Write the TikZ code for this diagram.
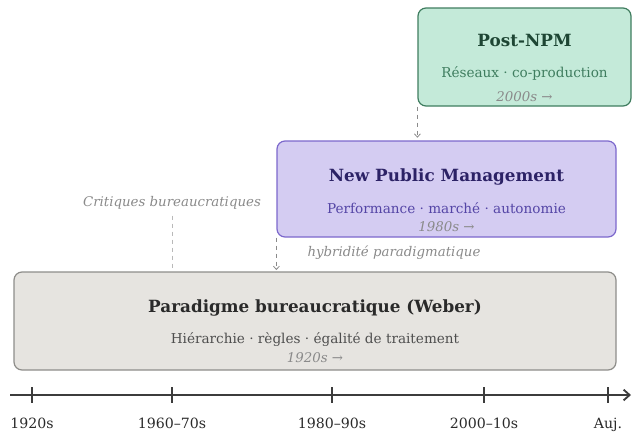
\documentclass[tikz,border=0pt]{standalone}
\usepackage{fontspec}
\setmainfont{DejaVu Serif}
\usepackage{tikz}
\usetikzlibrary{positioning, arrows.meta}

\definecolor{postfill}{HTML}{C4EAD9}
\definecolor{postdraw}{HTML}{3F7D5F}
\definecolor{posttext}{HTML}{1E4634}
\definecolor{npmfill}{HTML}{D4CCF2}
\definecolor{npmdraw}{HTML}{7C68CC}
\definecolor{npmtext}{HTML}{2C2266}
\definecolor{npmsub}{HTML}{5445A6}
\definecolor{burfill}{HTML}{E6E4E0}
\definecolor{burdraw}{HTML}{8E8D8A}
\definecolor{burtext}{HTML}{2A2A2A}
\definecolor{bursub}{HTML}{4E4E4E}
\definecolor{notegray}{HTML}{8A8A8A}
\definecolor{axisgray}{HTML}{3C3C3C}

\tikzset{
	era/.style={draw, rounded corners=6pt, line width=0.9pt, inner sep=0pt},
	eratitle/.style={anchor=base, inner sep=0pt, font=\bfseries\fontsize{12.6}{14}\selectfont},
	erasub/.style={anchor=base, inner sep=0pt, font=\fontsize{10.2}{12}\selectfont},
	eradate/.style={anchor=base, inner sep=0pt, text=notegray, font=\itshape\fontsize{10}{11}\selectfont},
	note/.style={anchor=base, inner sep=0pt, text=notegray, font=\itshape\fontsize{10}{11}\selectfont},
	link/.style={draw=notegray, dashed, dash pattern=on 3.5pt off 2.5pt, line width=0.6pt},
	ticklabel/.style={anchor=base, inner sep=0pt, text=burtext, font=\fontsize{10.6}{12}\selectfont}
}

\begin{document}
\begin{tikzpicture}[x=0.75pt, y=-0.75pt]
	\useasboundingbox (0,0) rectangle (632,436);

	% the three paradigms
	\begin{scope}
		\node[era, fill=postfill, draw=postdraw, minimum width=159.75pt, minimum height=73.5pt] (postnpm) at (524.5,57) {};
		\node[eratitle, text=posttext] (posttitle) at (524.5,46) {Post-NPM};
		\node[erasub, text=postdraw] (postsub) at (524.5,77) {Réseaux · co-production};
		\node[eradate] (postdate) at (524.5,101) {2000s →};

		\node[era, fill=npmfill, draw=npmdraw, minimum width=254.25pt, minimum height=72pt] (npm) at (446.5,189) {};
		\node[eratitle, text=npmtext] (npmtitle) at (446.5,181) {New Public Management};
		\node[erasub, text=npmsub] (npmsub) at (446.5,213) {Performance · marché · autonomie};
		\node[eradate] (npmdate) at (446.5,231) {1980s →};

		\node[era, fill=burfill, draw=burdraw, minimum width=451.5pt, minimum height=73.5pt] (bureau) at (315,321) {};
		\node[eratitle, text=burtext] (burtitle) at (315,312) {Paradigme bureaucratique (Weber)};
		\node[erasub, text=bursub] (bursub) at (315,343) {Hiérarchie · règles · égalité de traitement};
		\node[eradate] (burdate) at (315,362) {1920s →};
	\end{scope}

	% transitions
	\begin{scope}[-{Straight Barb[length=2.5pt, width=4.5pt]}]
		\draw[link] (postnpm.south west) -- ([yshift=2pt]postnpm.south west |- npm.north);
		\draw[link] (npm.south west) -- ([yshift=1pt]npm.south west |- bureau.north);
	\end{scope}

	\node[note] (critiques) at (172,206) {Critiques bureaucratiques};
	\draw[link, draw=notegray!60] ([yshift=-5pt]critiques.south) -- ([yshift=1.5pt]critiques.south |- bureau.north);
	\node[note] (hybrid) at (394,256) {hybridité paradigmatique};

	% time axis
	\begin{scope}[axisgray, line width=1.4pt]
		\coordinate (axstart) at (10,395);
		\coordinate (axend) at (631,395);
		\draw[-{Straight Barb[length=4.5pt, width=8pt]}] (axstart) -- (axend);

		\foreach \x/\lab/\nm in {32/1920s/a, 172/1960–70s/b, 332/1980–90s/c, 484/2000–10s/d, 608/Auj./e}
		{
			\draw[line width=1pt] (\x,387) -- (\x,403);
			\node[ticklabel] (year\nm) at (\x,428) {\lab};
		}
	\end{scope}
\end{tikzpicture}
\end{document}
